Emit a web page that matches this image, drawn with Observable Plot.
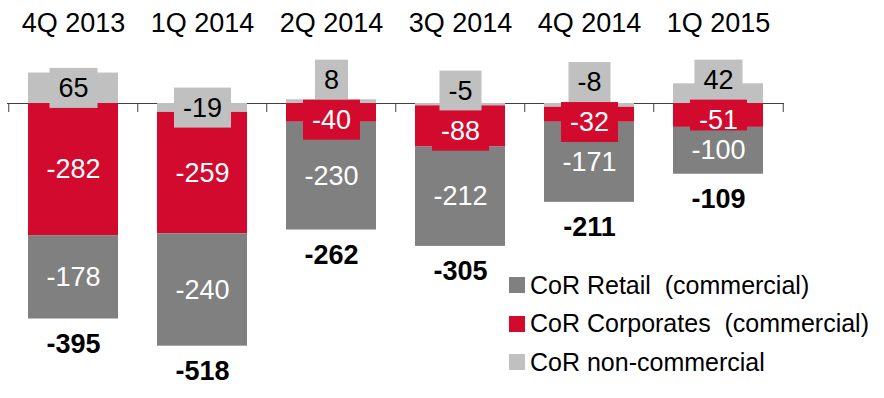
<!DOCTYPE html>
<html><head><meta charset="utf-8">
<script src="https://cdn.jsdelivr.net/npm/d3@7"></script>
<script src="https://cdn.jsdelivr.net/npm/@observablehq/plot@0.6"></script>
<style>
body{margin:0;background:#fff;}
#wrap{position:relative;width:884px;height:398px;font-family:"Liberation Sans",Arial,sans-serif;}
#legend{position:absolute;left:509px;top:266px;}
.row{display:flex;align-items:center;height:38.5px;font-size:25px;color:#000;white-space:pre;}
.sw{width:16px;height:16px;margin-right:5px;flex:none;}
</style></head><body><div id="wrap"></div>
<script>
// ---- data ----
const quarters = ["4Q 2013","1Q 2014","2Q 2014","3Q 2014","4Q 2014","1Q 2015"];
const seriesNames = ["CoR non-commercial","CoR Corporates  (commercial)","CoR Retail  (commercial)"];
const nonCommercial = [65,-19,8,-5,-8,42];
const corporates = [-282,-259,-40,-88,-32,-51];
const retail = [-178,-240,-230,-212,-171,-100];
const seriesColors = ["#c0c0c0","#d20a2e","#808080"];
const legendOrder = [2,1,0];

// ---- layout ----
const W = 884, H = 398;
const zeroPx = 103, k = 0.4685, yMax = 80, yMin = -600;
const marginTop = zeroPx - yMax*k;
const marginBottom = H - (zeroPx - yMin*k);
const marginLeft = 7, marginRight = 100;
const step = (W - marginLeft - marginRight)/quarters.length;
const labelH = 40, padX = 9;

const series = [nonCommercial, corporates, retail];
const rows = [];
quarters.forEach((q,i) => series.forEach((arr,s) => rows.push({q, s, name: seriesNames[s], v: arr[i]})));

// label positions (segment mid-points, nudged apart when crowded)
const labels = [];
const negSum = [], totals = [];
quarters.forEach((q,i) => {
  let pos = 0, neg = 0; const mids = [];
  series.forEach((arr,s) => {
    const v = arr[i];
    if (v >= 0) { mids.push(pos + v/2); pos += v; } else { mids.push(neg + v/2); neg += v; }
  });
  negSum.push(neg); totals.push(pos + neg);
  const Hu = labelH/k;
  const gap = mids[0] - mids[1];
  if (gap < Hu) { const o = Hu - gap; mids[0] += 0.75*o; mids[1] -= 0.25*o; }
  series.forEach((arr,s) => labels.push({q, s, y: mids[s], text: String(arr[i])}));
});
const darkLabels = labels.filter(d => d.s === 0);
const lightLabels = labels.filter(d => d.s !== 0);
const tickLen = 9/k;

const svg = Plot.plot({
  width: W, height: H,
  marginTop, marginBottom, marginLeft, marginRight,
  style: {fontFamily: '"Liberation Sans", Arial, sans-serif', background: "#fff", overflow: "visible"},
  x: {domain: quarters, paddingInner: 0.3, paddingOuter: 0.15},
  y: {domain: [yMin, yMax], axis: null},
  color: {domain: seriesNames, range: seriesColors},
  marks: [
    Plot.axisX({anchor: "top", tickSize: 0, tickPadding: 34, fontSize: 27, label: null}),
    Plot.ruleY([0], {stroke: "#404040", strokeWidth: 1}),
    Plot.ruleX(quarters, {x: d => d, y1: 0, y2: -tickLen, dx: -step/2, stroke: "#404040"}),
    Plot.ruleX(quarters.slice(-1), {x: d => d, y1: 0, y2: -tickLen, dx: step/2, stroke: "#404040"}),
    Plot.barY(rows, Plot.stackY({x: "q", y: "v", z: "s", fill: "name"})),
    Plot.text(darkLabels, {x: "q", y: "y", text: "text", fill: "#000", fontSize: 27}),
    Plot.text(lightLabels, {x: "q", y: "y", text: "text", fill: "#fff", fontSize: 27}),
    Plot.text(quarters, {x: d => d, y: (d,i) => negSum[i], text: (d,i) => String(totals[i]), dy: 25, fontSize: 27, fontWeight: "bold", fill: "#000"})
  ]
});

const wrap = document.getElementById("wrap");
wrap.appendChild(svg);

function addBoxes(g, data) {
  if (!g) return;
  const texts = Array.from(g.querySelectorAll("text"));
  texts.forEach((t, j) => {
    const b = t.getBBox();
    const r = document.createElementNS("http://www.w3.org/2000/svg", "rect");
    r.setAttribute("x", b.x - padX);
    r.setAttribute("width", b.width + 2*padX);
    r.setAttribute("y", b.y + b.height/2 - labelH/2);
    r.setAttribute("height", labelH);
    r.setAttribute("fill", seriesColors[data[j].s]);
    if (t.getAttribute("transform")) r.setAttribute("transform", t.getAttribute("transform"));
    g.insertBefore(r, t);
  });
}
const textGroups = svg.querySelectorAll('g[aria-label="text"]');
addBoxes(textGroups[0], darkLabels);
addBoxes(textGroups[1], lightLabels);

// legend
const leg = document.createElement("div");
leg.id = "legend";
legendOrder.forEach(s => {
  const row = document.createElement("div");
  row.className = "row";
  const sw = document.createElement("div");
  sw.className = "sw"; sw.style.background = seriesColors[s];
  const tx = document.createElement("span");
  tx.textContent = seriesNames[s];
  row.appendChild(sw); row.appendChild(tx);
  leg.appendChild(row);
});
wrap.appendChild(leg);
</script>
</body></html>
